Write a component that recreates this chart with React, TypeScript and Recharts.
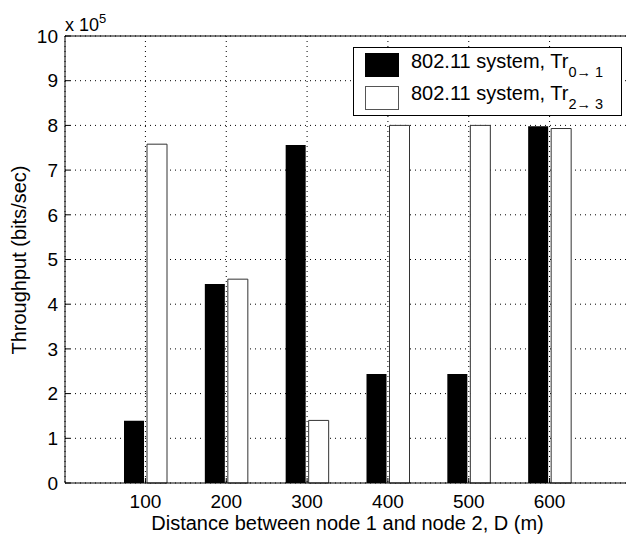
import { BarChart, Bar, XAxis, YAxis, CartesianGrid, Legend } from "recharts";

// distances D (m)
const distances = ["100", "200", "300", "400", "500", "600"];
// throughput in units of 1e5 bits/sec
const tr01 = [1.39, 4.45, 7.56, 2.44, 2.44, 7.98];
const tr23 = [7.58, 4.56, 1.4, 8.0, 8.0, 7.93];
const yTicks = [0, 1, 2, 3, 4, 5, 6, 7, 8, 9, 10];
const seriesNames = ["802.11 system, Tr", "802.11 system, Tr"];
const seriesSubs = ["0\u2192 1", "2\u2192 3"];

const data = distances.map((d, i) => ({ distance: d, tr01: tr01[i], tr23: tr23[i] }));

const FONT = "'Liberation Sans', Arial, Helvetica, sans-serif";

function MatlabLegend() {
  const swatches = [
    { fill: "#000", stroke: "#000" },
    { fill: "#fff", stroke: "#555" },
  ];
  return (
    <div
      style={{
        position: "absolute",
        left: 353,
        top: 47,
        width: 267,
        height: 67,
        border: "1px solid #000",
        background: "#fff",
        fontFamily: FONT,
        color: "#000",
      }}
    >
      {swatches.map((s, i) => (
        <div key={i}>
          <div
            style={{
              position: "absolute",
              left: 11,
              top: 5 + 33 * i,
              width: 32,
              height: 22,
              background: s.fill,
              border: `1px solid ${s.stroke}`,
            }}
          />
          <div
            style={{
              position: "absolute",
              left: 57,
              top: 3 + 32 * i,
              fontSize: 20,
              lineHeight: "20px",
              whiteSpace: "nowrap",
            }}
          >
            {seriesNames[i]}
            <span style={{ fontSize: 14.5, verticalAlign: -9 }}>{seriesSubs[i]}</span>
          </div>
        </div>
      ))}
    </div>
  );
}

export default function App() {
  return (
    <div
      style={{
        position: "absolute",
        left: 0,
        top: 0,
        width: 626,
        height: 535,
        overflow: "hidden",
        background: "#fff",
        fontFamily: FONT,
      }}
    >
      <BarChart
        width={632}
        height={535}
        data={data}
        margin={{ top: 35, right: 2, bottom: 0, left: 0 }}
        barSize={20}
        barGap={3}
      >
        <CartesianGrid stroke="#000" strokeDasharray="1 4" strokeWidth={1} />
        <XAxis
          dataKey="distance"
          type="category"
          height={52}
          padding={{ left: 40, right: 40 }}
          axisLine={{ stroke: "#000", strokeWidth: 1 }}
          tickLine={{ stroke: "#000" }}
          tickSize={-5}
          tickMargin={17}
          interval={0}
          tick={{ fill: "#000", fontSize: 19, fontFamily: FONT }}
        />
        <XAxis
          xAxisId="top"
          dataKey="distance"
          type="category"
          orientation="top"
          height={1}
          padding={{ left: 40, right: 40 }}
          axisLine={{ stroke: "#000", strokeWidth: 1 }}
          tickLine={{ stroke: "#000" }}
          tickSize={-5}
          tick={false}
          interval={0}
        />
        <YAxis
          type="number"
          domain={[0, 10]}
          ticks={yTicks}
          interval={0}
          width={65}
          axisLine={{ stroke: "#000", strokeWidth: 1 }}
          tickLine={{ stroke: "#000" }}
          tickSize={-5}
          tickMargin={12}
          tick={{ fill: "#000", fontSize: 19, fontFamily: FONT }}
        />
        <Bar dataKey="tr01" fill="#000" isAnimationActive={false} />
        <Bar dataKey="tr23" fill="#fff" stroke="#333" strokeWidth={1} isAnimationActive={false} />
        <Legend content={() => null} />
      </BarChart>
      <MatlabLegend />
      <div
        style={{
          position: "absolute",
          left: 65,
          top: 10,
          fontSize: 18,
          lineHeight: "18px",
          whiteSpace: "nowrap",
          color: "#000",
        }}
      >
        x 10<span style={{ fontSize: 13, verticalAlign: 8 }}>5</span>
      </div>
      <div
        style={{
          position: "absolute",
          left: 0,
          width: 695,
          top: 513,
          textAlign: "center",
          fontSize: 20,
          lineHeight: "20px",
          whiteSpace: "nowrap",
          color: "#000",
        }}
      >
        Distance between node 1 and node 2, D (m)
      </div>
      <div
        style={{
          position: "absolute",
          left: 19 - 150,
          top: 260 - 10,
          width: 300,
          height: 20,
          transform: "rotate(-90deg)",
          textAlign: "center",
          fontSize: 20,
          lineHeight: "20px",
          whiteSpace: "nowrap",
          color: "#000",
        }}
      >
        Throughput (bits/sec)
      </div>
    </div>
  );
}
